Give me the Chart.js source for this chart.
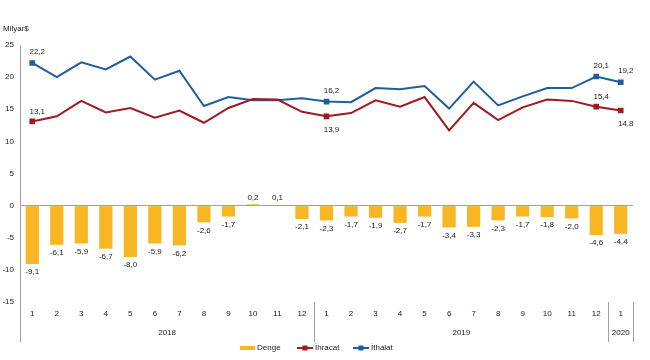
<!DOCTYPE html>
<html>
<head>
<meta charset="utf-8">
<script src="https://cdn.jsdelivr.net/npm/chart.js@4.4.1/dist/chart.umd.min.js"></script>
<style>
  html,body{margin:0;padding:0;background:#fff;}
  #wrap{width:650px;height:360px;position:relative;}
</style>
</head>
<body>
<div id="wrap"><canvas id="c" width="650" height="360"></canvas></div>
<script>
const categories = ['1','2','3','4','5','6','7','8','9','10','11','12','1','2','3','4','5','6','7','8','9','10','11','12','1'];
const yearLabels = ['2018','2019','2020'];
const yearStart = [0,12,24];
const yearEnd = [11,23,24];
const dengeValues = [-9.1,-6.1,-5.9,-6.7,-8.0,-5.9,-6.2,-2.6,-1.7,0.2,0.1,-2.1,-2.3,-1.7,-1.9,-2.7,-1.7,-3.4,-3.3,-2.3,-1.7,-1.8,-2.0,-4.6,-4.4];
const ihracatValues = [13.1,13.9,16.3,14.5,15.2,13.7,14.8,12.9,15.2,16.6,16.5,14.6,13.9,14.4,16.4,15.4,16.9,11.7,16.0,13.3,15.3,16.5,16.3,15.4,14.8];
const ithalatValues = [22.2,20.0,22.3,21.2,23.2,19.6,21.0,15.5,16.9,16.4,16.4,16.7,16.2,16.1,18.3,18.1,18.6,15.1,19.3,15.6,17.0,18.3,18.3,20.1,19.2];
const labeledIdx = [0,12,23,24];
const ihracatBelow = [false,true,false,true];
const yTicks = [25,20,15,10,5,0,-5,-10,-15];

const FONT = '"Liberation Sans", Arial, sans-serif';
const TXT = '#1a1a1a';
const AXIS = '#a0a0a0';
const fmt = v => v.toFixed(1).replace('.', ',');

const pointR = (arr) => arr.map((_, i) => labeledIdx.includes(i) ? 2.6 : 0);

const decor = {
  id: 'decor',
  afterDatasetsDraw(chart) {
    const ctx = chart.ctx;
    const xs = chart.scales.x, ys = chart.scales.y;
    const ca = chart.chartArea;
    const step = (xs.right - xs.left) / categories.length;
    ctx.save();
    ctx.font = '8px ' + FONT;
    ctx.fillStyle = TXT;
    ctx.textAlign = 'center';
    ctx.textBaseline = 'middle';
    // bar labels
    const mb = chart.getDatasetMeta(0);
    mb.data.forEach((el, i) => {
      const v = dengeValues[i];
      const y = v < 0 ? el.y + 8 : el.y - 7;
      ctx.fillText(fmt(v), el.x, y);
    });
    // line labels
    const mi = chart.getDatasetMeta(1);
    const mt = chart.getDatasetMeta(2);
    labeledIdx.forEach((idx, k) => {
      const et = mt.data[idx];
      ctx.fillText(fmt(ithalatValues[idx]), et.x + 5, et.y - 11);
      const ei = mi.data[idx];
      ctx.fillText(fmt(ihracatValues[idx]), ei.x + 5, ihracatBelow[k] ? ei.y + 13 : ei.y - 10);
    });
    // axis extension and year separators
    const bottom = ca.bottom + 40;
    ctx.strokeStyle = AXIS;
    ctx.lineWidth = 1;
    ctx.beginPath();
    ctx.moveTo(Math.round(ca.left) + 0.5, ca.bottom);
    ctx.lineTo(Math.round(ca.left) + 0.5, bottom);
    yearEnd.forEach(e => {
      const xr = Math.round(xs.getPixelForValue(e) + step / 2) + 0.5;
      ctx.moveTo(xr, ca.bottom);
      ctx.lineTo(xr, bottom);
    });
    ctx.stroke();
    // year labels
    yearLabels.forEach((lab, k) => {
      const xl = xs.getPixelForValue(yearStart[k]) - step / 2;
      const xr = xs.getPixelForValue(yearEnd[k]) + step / 2;
      ctx.fillText(lab, (xl + xr) / 2, ca.bottom + 31);
    });
    // unit
    ctx.textAlign = 'left';
    ctx.fillText('Milyar$', 3, 29);
    // legend
    const ly = 348;
    ctx.fillStyle = '#F8B624';
    ctx.fillRect(240, ly - 2, 15, 4);
    ctx.fillStyle = TXT;
    ctx.fillText('Denge', 257, ly);
    const lineItem = (x0, col, lab) => {
      ctx.strokeStyle = col; ctx.lineWidth = 2;
      ctx.beginPath(); ctx.moveTo(x0, ly); ctx.lineTo(x0 + 16, ly); ctx.stroke();
      ctx.fillStyle = col; ctx.fillRect(x0 + 5.5, ly - 2.5, 5, 5);
      ctx.fillStyle = TXT; ctx.fillText(lab, x0 + 18, ly);
    };
    lineItem(297, '#9E1B22', 'İhracat');
    lineItem(353, '#1F5D9E', 'İthalat');
    ctx.restore();
  }
};

new Chart(document.getElementById('c'), {
  data: {
    labels: categories,
    datasets: [
      { type: 'bar', label: 'Denge', data: dengeValues, backgroundColor: '#F8B624', borderWidth: 0,
        categoryPercentage: 1, barPercentage: 0.54, order: 3 },
      { type: 'line', label: 'İhracat', data: ihracatValues, borderColor: '#9E1B22', backgroundColor: '#9E1B22',
        borderWidth: 2, pointStyle: 'rect', pointRadius: pointR(ihracatValues), pointHoverRadius: 0, tension: 0, order: 1 },
      { type: 'line', label: 'İthalat', data: ithalatValues, borderColor: '#1F5D9E', backgroundColor: '#1F5D9E',
        borderWidth: 2, pointStyle: 'rect', pointRadius: pointR(ithalatValues), pointHoverRadius: 0, tension: 0, order: 2 }
    ]
  },
  options: {
    responsive: false,
    animation: false,
    events: [],
    layout: { padding: { top: 45, right: 17, bottom: 0, left: 0 } },
    plugins: { legend: { display: false }, tooltip: { enabled: false } },
    scales: {
      x: {
        offset: true,
        grid: { display: false, drawTicks: false },
        border: { display: false },
        ticks: { font: { family: FONT, size: 8 }, color: TXT, padding: 7, maxRotation: 0, autoSkip: false },
        afterFit: s => { s.height = 58; }
      },
      y: {
        min: -15, max: 25,
        afterBuildTicks: s => { s.ticks = yTicks.map(v => ({ value: v })); },
        grid: { drawTicks: false, color: c => c.tick && c.tick.value === 0 ? AXIS : 'rgba(0,0,0,0)', lineWidth: 1 },
        border: { display: true, color: AXIS, width: 1 },
        ticks: { font: { family: FONT, size: 8 }, color: TXT, padding: 6 },
        afterFit: s => { s.width = 20; }
      }
    }
  },
  plugins: [decor]
});
</script>
</body>
</html>
